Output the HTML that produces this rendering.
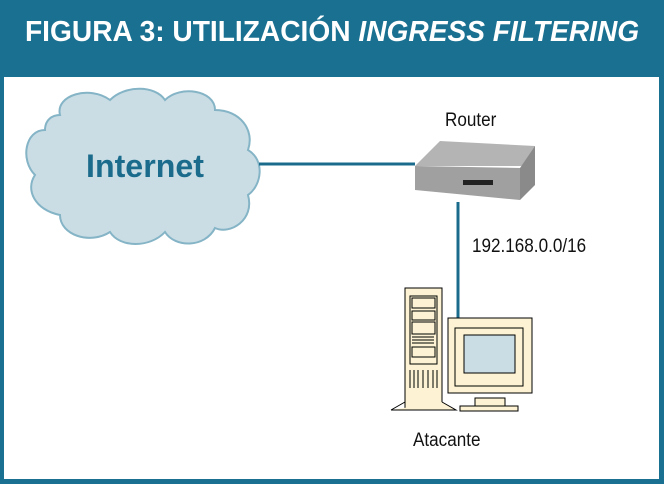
<!DOCTYPE html>
<html><head><meta charset="utf-8"><style>
body{margin:0;width:664px;height:484px;background:#1a7090;position:relative;overflow:hidden;font-family:"Liberation Sans",sans-serif}
#w{position:absolute;left:4px;top:77px;width:655px;height:402px;background:#fff}
#t{position:absolute;left:25px;top:16px;color:#fff;font-weight:bold;font-size:29px;white-space:nowrap;transform-origin:0 0;transform:scaleX(0.97)}
.l{position:absolute;font-size:19px;color:#111;transform-origin:0 0;transform:scaleX(0.9)}
</style></head><body>
<div id="w"></div>
<div id="t">FIGURA 3: UTILIZACIÓN <i>INGRESS FILTERING</i></div>
<svg width="664" height="484" style="position:absolute;left:0;top:0">
<path d="M60,115 C55,95 90,85 110,100 C125,85 155,85 165,100 C180,85 215,90 215,110 C240,110 255,130 248,150 C265,160 262,185 248,195 C255,220 230,235 215,228 C205,248 175,248 165,232 C150,248 120,248 110,232 C90,245 60,235 60,215 C35,210 25,190 35,175 C20,160 25,130 45,130 C45,120 52,115 60,115 Z" fill="#cadde5" stroke="#84b4c6" stroke-width="2"/>
<text x="145" y="177" text-anchor="middle" font-family="Liberation Sans" font-weight="bold" font-size="32" fill="#1b6c8c" textLength="118" lengthAdjust="spacingAndGlyphs">Internet</text>
<line x1="259" y1="164" x2="415" y2="164" stroke="#1b6c8c" stroke-width="3"/>
<line x1="458" y1="202" x2="458" y2="320" stroke="#1b6c8c" stroke-width="3"/>
<polygon points="440,141 535,146 530,166 415,166" fill="#b4b4b4"/>
<polygon points="415,166 520,168 520,200 415,190" fill="#a0a0a0"/>
<polygon points="520,168 535,146 535,185 520,200" fill="#8a8a8a"/>
<rect x="463" y="180" width="30" height="5" fill="#222"/>
<g stroke="#000" stroke-width="1" fill="#fdf3d4">
<rect x="405" y="288" width="37" height="122"/>
<rect x="410" y="296" width="27" height="68"/>
<rect x="412" y="298" width="23" height="10"/>
<rect x="412" y="311" width="23" height="9"/>
<rect x="412" y="322" width="23" height="12"/>
<rect x="412" y="347" width="23" height="10"/>
<path d="M391,410 L405,402 M442,402 L456,410 L391,410"/>
<rect x="448" y="318" width="84" height="75"/>
<rect x="455" y="328" width="68" height="58"/>
<rect x="464" y="335" width="51" height="38" fill="#cadde5"/>
<rect x="475" y="398" width="30" height="8"/>
<rect x="460" y="406" width="58" height="5"/>
</g>
<g stroke="#000"><line x1="410" y1="370" x2="410" y2="388"/><line x1="414" y1="370" x2="414" y2="388"/><line x1="418" y1="370" x2="418" y2="388"/><line x1="423" y1="370" x2="423" y2="388"/><line x1="428" y1="370" x2="428" y2="388"/><line x1="433" y1="370" x2="433" y2="388"/><line x1="437" y1="370" x2="437" y2="388"/>
<line x1="412" y1="337" x2="434" y2="337"/><line x1="412" y1="340" x2="434" y2="340"/><line x1="412" y1="343" x2="434" y2="343"/></g>
</svg>
<div class="l" style="left:445px;top:110px">Router</div>
<div class="l" style="left:472px;top:236px">192.168.0.0/16</div>
<div class="l" style="left:413px;top:430px">Atacante</div>
</body></html>
